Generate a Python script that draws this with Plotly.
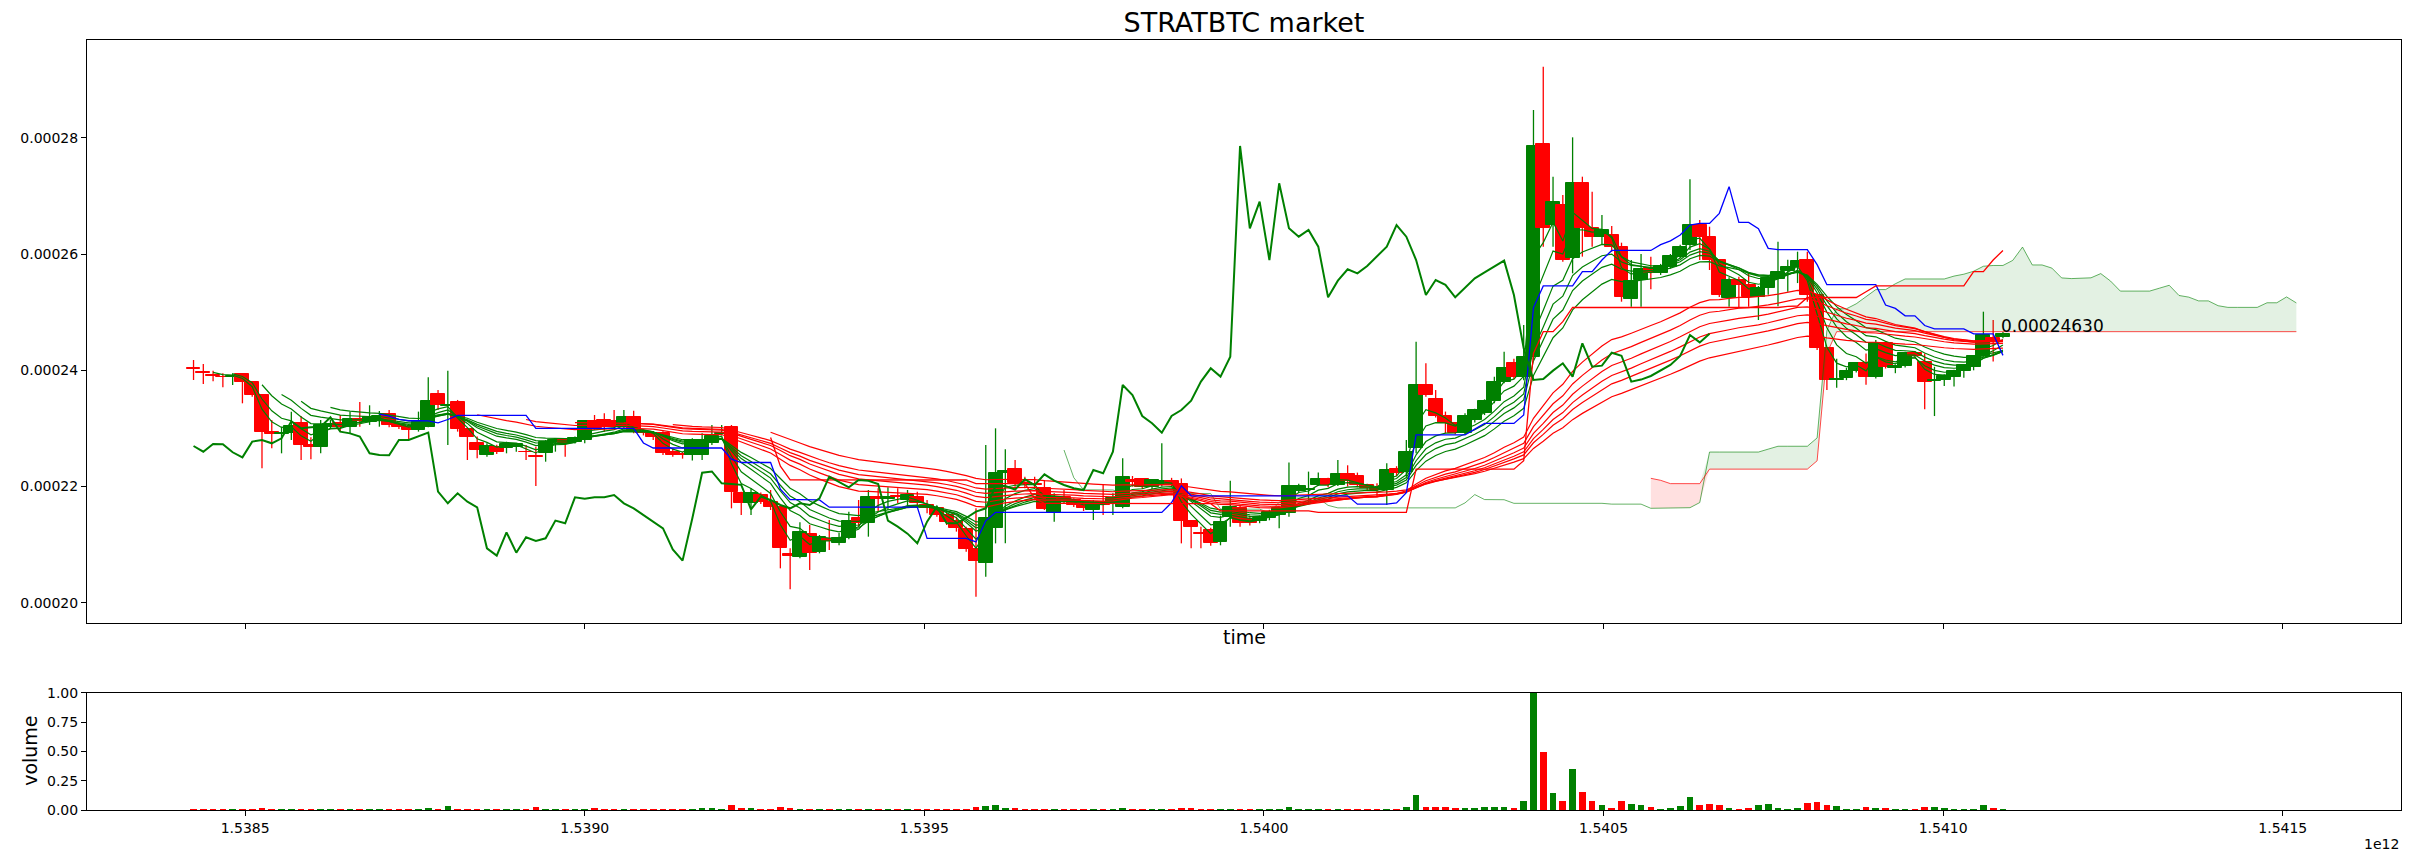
import numpy as np
import pandas as pd
import plotly.graph_objects as go
from plotly.subplots import make_subplots

# 4h candles, prices in 1e-8 BTC
t_start = 1538424000000
step = 14400000

opens = [
    24040, 23965, 23915, 23893, 23893, 23936, 23793, 23575, 22944, 22899,
    22916, 23099, 22715, 22686, 23030, 23088, 23019, 23157, 23115, 23140,
    23248, 23059, 23019, 22973, 23019, 23592, 23382, 23455, 22985, 22744,
    22543, 22686, 22658, 22680, 22600, 22520, 22572, 22773, 22801, 22772,
    22800, 23122, 23145, 23128, 23019, 23191, 22944, 22927, 22927, 22600,
    22555, 22543, 22543, 22743, 22899, 23019, 21884, 21712, 21855, 21740,
    21643, 20838, 20795, 21184, 20880, 21090, 21023, 21110, 21454, 21368,
    21815, 21790, 21830, 21770, 21827, 21683, 21626, 21511, 21414, 21265,
    20920, 20680, 21282, 22239, 22297, 22067, 22050, 21970, 21540, 21827,
    21770, 21683, 21597, 21740, 21712, 21654, 22113, 22125, 21987, 22050,
    22100, 22044, 21414, 21207, 21253, 21050, 21480, 21623, 21437, 21400,
    21454, 21511, 21540, 21930, 21940, 22027, 22125, 22027, 22211, 22182,
    22027, 21970, 21940, 22297, 22257, 22658, 23748, 23501, 23214, 23088,
    22927, 23145, 23260, 23478, 23805, 24131, 23891, 24235, 27892, 26499,
    26843, 25926, 27216, 26442, 26300, 26327, 26127, 25221, 25553, 25754,
    25668, 25783, 25955, 26155, 26499, 26298, 25897, 25238, 25553, 25470,
    25266, 25410, 25565, 25700, 25770, 25897, 25295, 24378, 23830, 23860,
    23994, 24120, 23891, 24464, 24040, 24080, 24303, 24149, 23815, 23833,
    23890, 23994, 24063, 24246, 24550, 24567,
]
highs = [
    24177, 24108, 23994, 23948, 23950, 23948, 23800, 23580, 23145, 23030,
    23289, 23214, 22850, 23145, 23150, 23230, 23289, 23455, 23398, 23300,
    23317, 23100, 23060, 23289, 23879, 23661, 23993, 23490, 23000, 22860,
    22744, 22720, 22772, 22750, 22715, 22686, 22801, 22830, 22830, 22860,
    23145, 23231, 23260, 23317, 23317, 23306, 22990, 22950, 22950, 22658,
    22600, 22830, 22916, 23059, 23059, 23059, 21912, 21970, 21900, 21941,
    21650, 20938, 21385, 21339, 21167, 21425, 21200, 21569, 21769, 21941,
    21970, 21987, 21970, 21941, 21912, 21769, 21650, 21551, 21482, 21310,
    21626, 22715, 23002, 22640, 22457, 22170, 22170, 22113, 21884, 21941,
    21800, 21700, 21769, 22027, 21884, 22486, 22182, 22140, 22130, 22744,
    22150, 22140, 21425, 21310, 21290, 21500, 22102, 21680, 21500, 21500,
    21600, 21650, 22412, 22050, 22257, 22240, 22150, 22458, 22366, 22240,
    22050, 22056, 22400, 22350, 22800, 24493, 24120, 23660, 23290, 23100,
    23260, 23340, 23500, 23890, 24320, 24200, 24780, 28477, 29222, 27330,
    27015, 28007, 27330, 27072, 26671, 26482, 26195, 25897, 26000, 25954,
    25830, 26000, 26160, 27285, 26585, 26470, 25910, 25600, 25610, 25667,
    25450, 25600, 26212, 25900, 26040, 26040, 25300, 24400, 24200, 24040,
    24130, 24290, 24521, 24480, 24100, 24320, 24330, 24290, 24060, 23930,
    24010, 24110, 24260, 25008, 24865, 24660,
]
lows = [
    23833, 23764, 23810, 23707, 23745, 23432, 23546, 22314, 22658, 22572,
    22800, 22457, 22469, 22572, 23000, 22945, 22915, 23030, 23060, 23030,
    23019, 22990, 22813, 22945, 23019, 23317, 22715, 22945, 22457, 22486,
    22515, 22560, 22572, 22600, 22457, 22010, 22428, 22600, 22515, 22740,
    22744, 22973, 22945, 23002, 23002, 22915, 22880, 22800, 22543, 22515,
    22480, 22450, 22457, 22715, 22887, 21626, 21511, 21511, 21700, 21597,
    20594, 20233, 20766, 20565, 20852, 20909, 20990, 21093, 21310, 21138,
    21569, 21597, 21712, 21654, 21654, 21540, 21480, 21339, 21225, 20880,
    20107, 20450, 21023, 21023, 21999, 21970, 21970, 21597, 21396, 21712,
    21650, 21580, 21425, 21511, 21511, 21626, 21999, 21960, 21960, 22000,
    21990, 21023, 20938, 20938, 20980, 20990, 21310, 21310, 21330, 21370,
    21420, 21282, 21482, 21900, 21710, 22010, 21990, 22010, 22000, 21990,
    21930, 21830, 21681, 22180, 22170, 22572, 23546, 23190, 22917, 22900,
    22900, 23100, 23230, 23432, 23776, 23850, 23830, 24177, 26127, 26127,
    25868, 25668, 25955, 26127, 26155, 26040, 25180, 25094, 25094, 25393,
    25640, 25750, 25930, 26069, 25897, 25725, 25260, 25094, 25080, 25094,
    24865, 25300, 25100, 25350, 25500, 25180, 24350, 23660, 23700, 23830,
    23960, 23750, 23860, 24030, 23950, 24050, 24220, 23328, 23213, 23730,
    23720, 23870, 24000, 24230, 24150, 24550,
]
closes = [
    24030, 23955, 23910, 23888, 23905, 23804, 23575, 22944, 22899, 22920,
    23042, 22715, 22686, 23059, 23080, 23019, 23157, 23135, 23191, 23214,
    23059, 23019, 22973, 23117, 23472, 23403, 23410, 22985, 22847, 22629,
    22698, 22600, 22732, 22730, 22590, 22503, 22773, 22800, 22744, 22830,
    23122, 23002, 23019, 23030, 23191, 22944, 22915, 22860, 22572, 22543,
    22540, 22801, 22801, 22870, 22930, 21912, 21712, 21884, 21740, 21643,
    20938, 20812, 21213, 20863, 21127, 21065, 21110, 21414, 21368, 21815,
    21790, 21815, 21815, 21855, 21712, 21626, 21511, 21385, 21282, 20920,
    20726, 21454, 22239, 22260, 22056, 22045, 22030, 21609, 21827, 21770,
    21683, 21626, 21712, 21683, 21798, 22170, 22085, 21987, 22113, 22100,
    22044, 21414, 21311, 21190, 21024, 21397, 21655, 21368, 21368, 21460,
    21569, 21626, 22010, 22010, 21950, 22125, 22027, 22211, 22102, 22027,
    21970, 21940, 22285, 22228, 22601, 23748, 23575, 23214, 23088, 22927,
    23214, 23317, 23478, 23805, 24034, 23891, 24235, 27858, 26442, 26900,
    25897, 27216, 26442, 26298, 26413, 26127, 25255, 25542, 25737, 25668,
    25794, 25966, 26127, 26499, 26298, 25897, 25295, 25553, 25470, 25255,
    25410, 25582, 25685, 25783, 25886, 25295, 24378, 23833, 23850, 23994,
    24120, 23891, 24464, 24063, 24080, 24303, 24250, 23805, 23840, 23902,
    23994, 24092, 24246, 24607, 24480, 24630,
]
# volume, normalised to the biggest candle
volumes = [
    0.004, 0.006, 0.004, 0.006, 0.003, 0.006, 0.008, 0.015, 0.006, 0.006,
    0.006, 0.006, 0.006, 0.006, 0.006, 0.006, 0.006, 0.006, 0.006, 0.006,
    0.006, 0.003, 0.006, 0.003, 0.015, 0.006, 0.035, 0.010, 0.012, 0.006,
    0.006, 0.003, 0.003, 0.003, 0.006, 0.025, 0.006, 0.003, 0.003, 0.006,
    0.008, 0.015, 0.006, 0.006, 0.006, 0.006, 0.006, 0.006, 0.006, 0.006,
    0.006, 0.006, 0.015, 0.015, 0.006, 0.040, 0.015, 0.015, 0.006, 0.006,
    0.025, 0.015, 0.012, 0.010, 0.008, 0.006, 0.006, 0.008, 0.006, 0.010,
    0.006, 0.006, 0.004, 0.006, 0.006, 0.006, 0.008, 0.008, 0.010, 0.012,
    0.025, 0.035, 0.045, 0.020, 0.015, 0.008, 0.006, 0.012, 0.012, 0.006,
    0.006, 0.006, 0.010, 0.008, 0.008, 0.015, 0.006, 0.008, 0.006, 0.010,
    0.008, 0.020, 0.015, 0.008, 0.006, 0.006, 0.012, 0.006, 0.006, 0.003,
    0.003, 0.006, 0.030, 0.006, 0.006, 0.003, 0.006, 0.006, 0.006, 0.006,
    0.003, 0.006, 0.012, 0.012, 0.030, 0.130, 0.030, 0.025, 0.025, 0.017,
    0.017, 0.017, 0.023, 0.023, 0.023, 0.017, 0.074, 1.000, 0.497, 0.143,
    0.074, 0.349, 0.154, 0.074, 0.040, 0.017, 0.074, 0.051, 0.040, 0.023,
    0.009, 0.017, 0.031, 0.109, 0.040, 0.051, 0.040, 0.017, 0.009, 0.017,
    0.040, 0.051, 0.017, 0.009, 0.017, 0.057, 0.069, 0.040, 0.031, 0.009,
    0.009, 0.023, 0.017, 0.017, 0.009, 0.009, 0.009, 0.023, 0.023, 0.017,
    0.009, 0.009, 0.009, 0.040, 0.017, 0.003,
]

short_spans = [3, 5, 8, 10, 12, 15]
long_spans = [30, 35, 40, 45, 50, 60]
tenkan_period, kijun_period, senkou_period, shift = 20, 60, 120, 30

x_tick_labels = ['1.5385', '1.5390', '1.5395', '1.5400', '1.5405', '1.5410', '1.5415']
y_tick_vals = [0.00020, 0.00022, 0.00024, 0.00026, 0.00028]
vol_tick_vals = [0.0, 0.25, 0.5, 0.75, 1.0]

n = len(closes)
times = np.array([t_start + i * step for i in range(n)], dtype=float)
o = np.array(opens) * 1e-8
h = np.array(highs) * 1e-8
l = np.array(lows) * 1e-8
c = np.array(closes) * 1e-8
up = c >= o
colors = np.where(up, 'green', 'red')


def ema(values, span):
    # seeded with a simple average, like ta-lib
    out = np.full(len(values), np.nan)
    out[span - 1] = values[:span].mean()
    k = 2 / (span + 1)
    for i in range(span, len(values)):
        out[i] = values[i] * k + out[i - 1] * (1 - k)
    return out


def donchian_mid(period):
    return ((pd.Series(h).rolling(period).max() + pd.Series(l).rolling(period).min()) / 2).values


tenkan = donchian_mid(tenkan_period)
kijun = donchian_mid(kijun_period)
span_a = (tenkan + kijun) / 2
span_b = donchian_mid(senkou_period)
shifted_t = times + shift * step

fig = make_subplots(rows=2, cols=1, shared_xaxes=True)

# candles: wicks then bodies
for flag, col in [(True, 'green'), (False, 'red')]:
    xs, ys = [], []
    for i in np.where(up == flag)[0]:
        xs += [times[i], times[i], None]
        ys += [l[i], h[i], None]
    fig.add_trace(go.Scatter(x=xs, y=ys, mode='lines', line=dict(color=col, width=1.3),
                             hoverinfo='skip', showlegend=False), row=1, col=1)

fig.add_trace(go.Bar(x=times, y=np.abs(c - o), base=np.minimum(o, c), width=2.05e7,
                     marker=dict(color=colors, line=dict(color=colors, width=1)),
                     showlegend=False), row=1, col=1)

# ichimoku cloud
ok = ~np.isnan(span_b)
for upper, fcol in [(np.maximum(span_a, span_b), 'rgba(0,128,0,0.11)'),
                    (np.minimum(span_a, span_b), 'rgba(255,0,0,0.12)')]:
    fig.add_trace(go.Scatter(x=shifted_t[ok], y=span_b[ok], mode='lines', line=dict(width=0),
                             hoverinfo='skip', showlegend=False), row=1, col=1)
    fig.add_trace(go.Scatter(x=shifted_t[ok], y=upper[ok], mode='lines', line=dict(width=0),
                             fill='tonexty', fillcolor=fcol, hoverinfo='skip', showlegend=False),
                  row=1, col=1)
fig.add_trace(go.Scatter(x=shifted_t, y=span_a, mode='lines',
                         line=dict(color='rgba(0,128,0,0.6)', width=1), showlegend=False), row=1, col=1)
fig.add_trace(go.Scatter(x=shifted_t, y=span_b, mode='lines',
                         line=dict(color='rgba(255,0,0,0.7)', width=1), showlegend=False), row=1, col=1)

# guppy ribbons
for s in short_spans:
    fig.add_trace(go.Scatter(x=times, y=ema(c, s), mode='lines',
                             line=dict(color='green', width=1.2), showlegend=False), row=1, col=1)
for s in long_spans:
    fig.add_trace(go.Scatter(x=times, y=ema(c, s), mode='lines',
                             line=dict(color='red', width=1.2), showlegend=False), row=1, col=1)

fig.add_trace(go.Scatter(x=times, y=tenkan, mode='lines', line=dict(color='blue', width=1.3),
                         showlegend=False), row=1, col=1)
fig.add_trace(go.Scatter(x=times, y=kijun, mode='lines', line=dict(color='red', width=1.3),
                         showlegend=False), row=1, col=1)
# chikou span
fig.add_trace(go.Scatter(x=times[:n - shift], y=c[shift:], mode='lines',
                         line=dict(color='green', width=2), showlegend=False), row=1, col=1)

fig.add_trace(go.Bar(x=times, y=volumes, width=9.8e6, marker=dict(color=colors, line=dict(width=0)),
                     showlegend=False), row=2, col=1)

font = 'DejaVu Sans'
fig.add_annotation(x=times[-1], y=c[-1], xref='x', yref='y', text=f'{c[-1]:.8f}', showarrow=False,
                   xanchor='left', yanchor='bottom', yshift=-4, xshift=-4,
                   font=dict(family=font, size=17, color='black'))
fig.add_annotation(x=0.5, y=0.2247, xref='paper', yref='paper', text='time', showarrow=False,
                   xanchor='center', yanchor='middle', font=dict(family=font, size=19, color='black'))
fig.add_annotation(x=-0.0247, y=0.0766, xref='paper', yref='paper', text='volume', showarrow=False,
                   textangle=-90, xanchor='center', yanchor='middle', font=dict(family=font, size=19, color='black'))
fig.add_annotation(x=1.0, y=-0.044, xref='paper', yref='paper', text='1e12', showarrow=False,
                   xanchor='right', yanchor='middle', font=dict(family=font, size=14, color='black'))

axis_style = dict(showline=True, linecolor='black', linewidth=1, mirror=True, ticks='outside',
                  ticklen=5, tickcolor='black', showgrid=False, zeroline=False,
                  tickfont=dict(family=font, size=14, color='black'))
fig.update_xaxes(range=[1.53826716e12, 1.54167405e12],
                 tickvals=[float(s) * 1e12 for s in x_tick_labels], ticktext=x_tick_labels, **axis_style)
fig.update_yaxes(**axis_style)
fig.update_yaxes(range=[0.00019654, 0.00029681], tickvals=y_tick_vals, tickformat='.5f',
                 domain=[0.2429, 1.0], row=1, col=1)
fig.update_yaxes(range=[0, 1], tickvals=vol_tick_vals, tickformat='.2f', domain=[0, 0.152], row=2, col=1)

# the page body adds an 8px margin, so the figure is shrunk by that much
fig.update_layout(
    width=2407, height=854,
    margin=dict(l=69, r=14, t=32, b=52),
    paper_bgcolor='white', plot_bgcolor='white',
    barmode='overlay', bargap=0,
    title=dict(text='STRATBTC market', x=0.5, xref='paper', y=1.0, yref='container', yanchor='top',
               pad=dict(t=5), font=dict(family=font, size=27, color='black')),
    font=dict(family=font, color='black'),
)

fig.write_html("out.html")
